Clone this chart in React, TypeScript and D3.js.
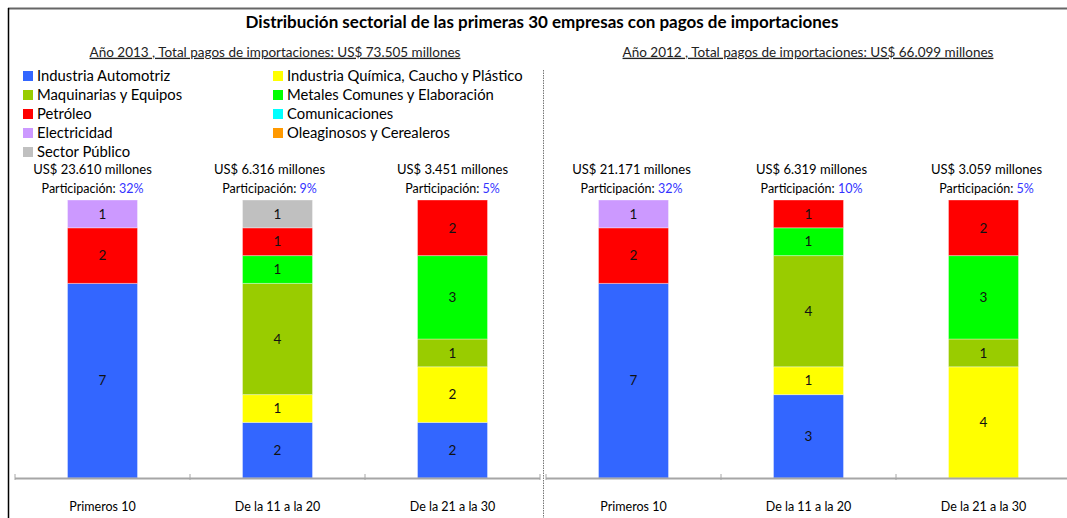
import React from 'react';
import * as d3 from 'd3';

// sectors, in stacking order (bottom to top)
const sectors = [
  'Industria Automotriz',
  'Industria Química, Caucho y Plástico',
  'Maquinarias y Equipos',
  'Metales Comunes y Elaboración',
  'Petróleo',
  'Electricidad',
  'Sector Público',
  'Comunicaciones',
  'Oleaginosos y Cerealeros',
];
const sectorColors = ['#3366FF', '#FFFF00', '#99CC00', '#00FF00', '#FF0000', '#CC99FF', '#C0C0C0', '#00FFFF', '#FF9900'];

// legend layout as in the original (two columns)
const legendCol1 = ['Industria Automotriz', 'Maquinarias y Equipos', 'Petróleo', 'Electricidad', 'Sector Público'];
const legendCol2 = ['Industria Química, Caucho y Plástico', 'Metales Comunes y Elaboración', 'Comunicaciones', 'Oleaginosos y Cerealeros'];

const categories = ['Primeros 10', 'De la 11 a la 20', 'De la 21 a la 30'];

// number of companies per sector, one array per category (same order as sectors)
const counts2013 = [
  [7, 0, 0, 0, 2, 1, 0, 0, 0],
  [2, 1, 4, 1, 1, 0, 1, 0, 0],
  [2, 2, 1, 3, 2, 0, 0, 0, 0],
];
const counts2012 = [
  [7, 0, 0, 0, 2, 1, 0, 0, 0],
  [3, 1, 4, 1, 1, 0, 0, 0, 0],
  [0, 4, 1, 3, 2, 0, 0, 0, 0],
];

const amounts2013 = ['23.610', '6.316', '3.451'];
const shares2013 = [32, 9, 5];
const amounts2012 = ['21.171', '6.319', '3.059'];
const shares2012 = [32, 10, 5];

const title = 'Distribución sectorial de las primeras 30 empresas con pagos de importaciones';
const subtitle2013 = 'Año 2013 , Total pagos de importaciones: US$ 73.505 millones';
const subtitle2012 = 'Año 2012 , Total pagos de importaciones: US$ 66.099 millones';

const FONT = 'Lato, "Open Sans", sans-serif';
const W = 1067;
const H = 518;

const y = d3.scaleLinear().domain([0, 10]).range([478, 200]);
const color = d3.scaleOrdinal<string, string>().domain(sectors).range(sectorColors);

const Panel = ({ x0, x1, counts, amounts, shares, headerShift }) => {
  const x = d3.scaleBand().domain(categories).range([x0, x1]).paddingInner(0).paddingOuter(0);
  const barW = 70;
  const rows = counts.map((c, i) => {
    const r = { cat: categories[i] };
    sectors.forEach((s, j) => (r[s] = c[j]));
    return r;
  });
  const series = d3.stack().keys(sectors)(rows);
  const ticks = [...categories.map(c => x(c)), x1];

  return (
    <g>
      {series.map(s =>
        s.map((d, i) => {
          const v = d[1] - d[0];
          if (v <= 0) return null;
          const cx = x(categories[i]) + x.bandwidth() / 2;
          return (
            <g key={s.key + i}>
              <rect
                x={cx - barW / 2}
                y={y(d[1])}
                width={barW}
                height={y(d[0]) - y(d[1])}
                fill={color(s.key)}
                stroke="#ffffff"
                strokeOpacity={0.35}
                strokeWidth={1}
              />
              <text
                x={cx}
                y={(y(d[0]) + y(d[1])) / 2}
                dy="0.35em"
                textAnchor="middle"
                fontSize={13.5}
                fill="#111"
              >
                {v}
              </text>
            </g>
          );
        })
      )}
      <line x1={x0} x2={x1} y1={478.5} y2={478.5} stroke="#A6A6A6" strokeWidth={2} />
      {ticks.map((t, i) => (
        <line key={i} x1={t} x2={t} y1={474} y2={480} stroke="#A6A6A6" strokeWidth={1} />
      ))}
      {categories.map((c, i) => {
        const cx = x(c) + x.bandwidth() / 2;
        const hx = cx + headerShift[i];
        return (
          <g key={c}>
            <text x={hx} y={169} dy="0.35em" textAnchor="middle" fontSize={13} fill="#000">
              {`US$ ${amounts[i]} millones`}
            </text>
            <text x={hx} y={189} dy="0.35em" textAnchor="middle" fontSize={12.5} fill="#000">
              Participación: <tspan fill="#3333FF">{shares[i]}%</tspan>
            </text>
            <text x={cx} y={507} dy="0.35em" textAnchor="middle" fontSize={12.5} fill="#000">
              {c}
            </text>
          </g>
        );
      })}
    </g>
  );
};

const Legend = () => {
  const rowY = d3.scalePoint().domain(d3.range(5).map(String)).range([76, 152]);
  const col = (names, sx) =>
    names.map((n, i) => (
      <g key={n} transform={`translate(${sx},${rowY(String(i))})`}>
        <rect x={0} y={-5} width={10} height={10} fill={color(n)} />
        <text x={14} y={0} dy="0.35em" fontSize={14.8} fill="#000">
          {n}
        </text>
      </g>
    ));
  return (
    <g>
      {col(legendCol1, 23)}
      {col(legendCol2, 273)}
    </g>
  );
};

const Subtitle = ({ cx, text }) => (
  <text x={cx} y={52} dy="0.35em" textAnchor="middle" fontSize={13.5} fill="#222" textDecoration="underline">
    {text}
  </text>
);

export default function App() {
  return (
    <svg
      width={W}
      height={H}
      style={{ position: 'absolute', left: 0, top: 0, background: '#fff' }}
      fontFamily={FONT}
    >
      <rect width={W} height={H} fill="#fff" />
      <line x1={8} x2={W} y1={8.5} y2={8.5} stroke="#666" strokeWidth={2} />
      <line x1={8.5} x2={8.5} y1={8} y2={H} stroke="#000" strokeWidth={1.5} />
      <line x1={543.5} x2={543.5} y1={70} y2={H} stroke="#777" strokeWidth={1} strokeDasharray="1.5,1" />
      <text x={542} y={22} dy="0.35em" textAnchor="middle" fontSize={17} fontWeight="bold" fill="#000">
        {title}
      </text>
      <Subtitle cx={275} text={subtitle2013} />
      <Subtitle cx={808} text={subtitle2012} />
      <Legend />
      <Panel x0={15} x1={540} counts={counts2013} amounts={amounts2013} shares={shares2013} headerShift={[-10, -8, 0]} />
      <Panel x0={546} x1={1071} counts={counts2012} amounts={amounts2012} shares={shares2012} headerShift={[-2, 3, 3]} />
    </svg>
  );
}
